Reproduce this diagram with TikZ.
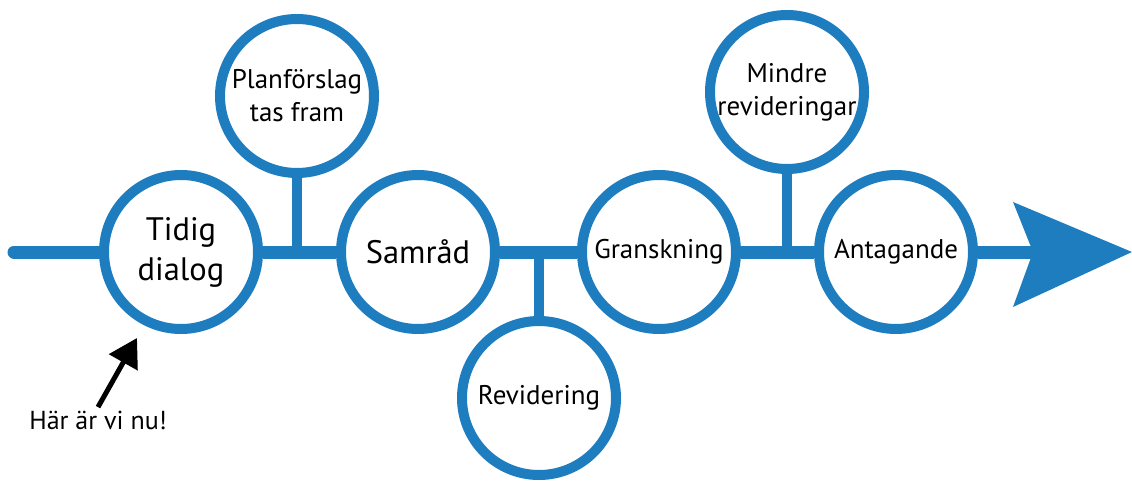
\documentclass[tikz,border=0pt]{standalone}
\usepackage{fontspec}
\setmainfont{PT Sans}
\usetikzlibrary{arrows.meta}
\definecolor{azul}{RGB}{30,125,191}
\begin{document}
\begin{tikzpicture}[x=1pt,y=-1pt,
    etapa/.style={circle,draw=azul,line width=10pt,fill=white,minimum size=154pt,
                  inner sep=0pt,align=center,font=\fontsize{27}{33}\selectfont},
    grande/.style={font=\fontsize{32.5}{40}\selectfont},
    linea/.style={draw=azul,line width=13pt},
    rama/.style={draw=azul,line width=10pt},
    puntero/.style={draw=black,line width=5pt,-{Triangle[length=28pt,width=32pt]}}]
    \useasboundingbox (0,0) rectangle (1132,481);
    %ETAPAS:
     \begin{scope}
     %circulos en la linea------------------
     \node[etapa,grande] (tidig)  at (181,252) {Tidig\\dialog};
     \node[etapa,grande] (samrad) at (418,252) {Samråd};
     \node[etapa] (gransk) at (659,252) {Granskning};
     \node[etapa] (antag)  at (896,252) {Antagande};
     %circulos arriba y abajo--------------
     \node[etapa] (plan)   at (297,96)  {Planförslag\\tas fram};
     \node[etapa] (revid)  at (539,398) {Revidering};
     \node[etapa] (mindre) at (787,92)  {Mindre\\revideringar};
     %----------------------------------
     \end{scope}
    %LINEA:
     \begin{scope}
     \coordinate (inicio) at (14,252);
     \coordinate (punta) at (1036,252);
     \draw[linea,line cap=round] (inicio) -- (tidig);
     \draw[linea] (tidig) -- (samrad) -- (gransk) -- (antag) -- (punta);
     \fill[azul] (1013,202) -- (1132,252) -- (1013,307) -- (1033,252) -- cycle;
     %ramas----------------------------
     \draw[rama] (plan) -- (plan |- tidig);
     \draw[rama] (revid) -- (revid |- tidig);
     \draw[rama] (mindre) -- (mindre |- tidig);
     %----------------------------------
     \end{scope}
    %AQUI:
     \node[font=\fontsize{26}{30}\selectfont] (nu) at (98,420) {Här är vi nu!};
     \coordinate (aqui) at (137,338);
     \draw[puntero] (nu.north) -- (aqui);
\end{tikzpicture}
\end{document}
